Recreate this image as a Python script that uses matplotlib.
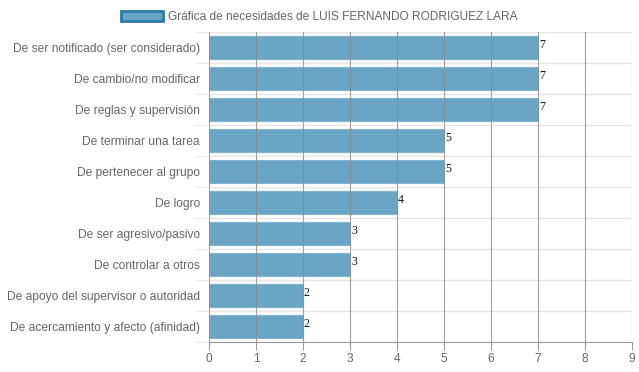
import numpy as np
import matplotlib
matplotlib.use("Agg")
import matplotlib.pyplot as plt
from matplotlib.patches import Patch

categorias = [
    "De ser notificado (ser considerado)",
    "De cambio/no modificar",
    "De reglas y supervisión",
    "De terminar una tarea",
    "De pertenecer al grupo",
    "De logro",
    "De ser agresivo/pasivo",
    "De controlar a otros",
    "De apoyo del supervisor o autoridad",
    "De acercamiento y afecto (afinidad)",
]
valores = [7, 7, 7, 5, 5, 4, 3, 3, 2, 2]
xticks = list(range(0, 10))
titulo = "Gráfica de necesidades de LUIS FERNANDO RODRIGUEZ LARA"

plt.rcParams['font.family'] = ['Liberation Sans', 'DejaVu Sans']

fig = plt.figure(figsize=(6.39, 3.72), dpi=100)
ax = fig.add_axes([209/639, 1 - 342/372, (632-209)/639, 310/372])

y = np.arange(len(categorias))
ax.barh(y, valores, height=0.73, color="#6aa5c6", edgecolor="#7fb3cf",
        linewidth=0.8, zorder=2)

for yi, v in zip(y, valores):
    ax.text(v + 0.02, yi - 0.28, str(v), fontsize=8.6, family="Liberation Serif",
            color="#111111", va="top", ha="left", zorder=4)

ax.set_xlim(0, 9)
ax.set_ylim(len(categorias) - 0.5, -0.5)
ax.set_xticks(xticks)
ax.set_yticks(y)
ax.set_yticklabels(categorias)
ax.set_yticks(np.arange(-0.5, len(categorias), 1), minor=True)

ax.tick_params(axis='y', which='major', length=0, pad=6.5, labelsize=8.65, labelcolor="#666666")
ax.tick_params(axis='y', which='minor', length=10, color="#e6e6e6")
ax.tick_params(axis='x', length=6, color="#999999", labelsize=8.6, labelcolor="#666666", pad=2)

ax.grid(axis='y', which='minor', color="#e6e6e6", linewidth=1, zorder=0)
for xv in xticks:
    ax.axvline(xv, color="#8a8a8a", linewidth=0.8, alpha=0.8, zorder=3)

for s in ['top', 'right', 'left']:
    ax.spines[s].set_visible(False)
ax.spines['bottom'].set_color("#999999")
ax.spines['bottom'].set_linewidth(0.8)

handle = Patch(facecolor="#6aa5c6", edgecolor="#2e7aa8", linewidth=2)
fig.legend([handle], [titulo], loc="upper center", bbox_to_anchor=(0.5, 1.0),
           frameon=False, fontsize=8.6, labelcolor="#666666",
           handlelength=3.5, handleheight=0.95, handletextpad=0.45)

fig.savefig("out.png", dpi=100)
